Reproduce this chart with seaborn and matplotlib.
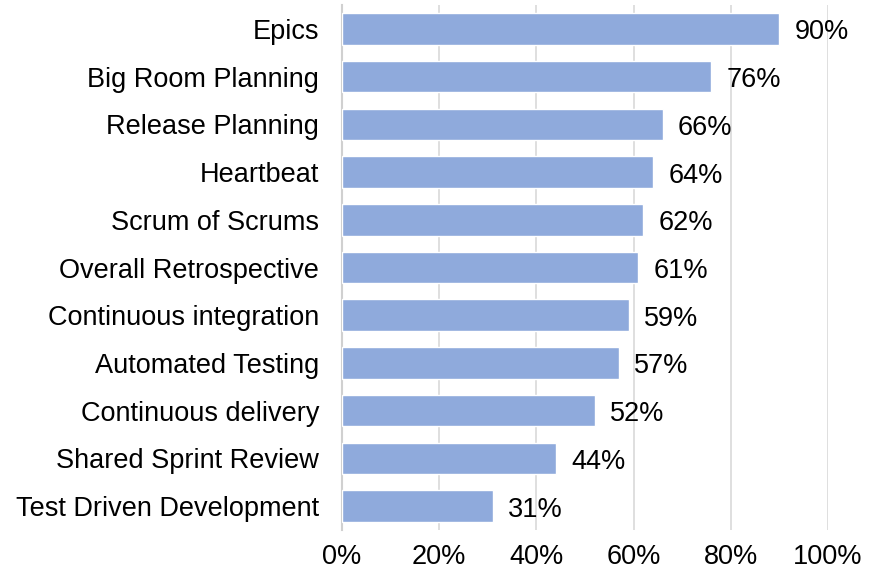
import matplotlib
matplotlib.use("Agg")
import matplotlib.pyplot as plt
import seaborn as sns
import pandas as pd
from matplotlib.ticker import FuncFormatter

categories = ["Epics", "Big Room Planning", "Release Planning", "Heartbeat",
              "Scrum of Scrums", "Overall Retrospective", "Continuous integration",
              "Automated Testing", "Continuous delivery", "Shared Sprint Review",
              "Test Driven Development"]
values = [90, 76, 66, 64, 62, 61, 59, 57, 52, 44, 31]
x_ticks = [0, 20, 40, 60, 80, 100]

df = pd.DataFrame({"practice": categories, "pct": values})

sns.set_theme(style="white")
plt.rcParams['font.family'] = ['Liberation Sans', 'DejaVu Sans']

fig = plt.figure(figsize=(8.72, 5.73), dpi=100)
ax = fig.add_axes([342/872, 1-530/573, 486/872, 525/573])

sns.barplot(data=df, x="pct", y="practice", order=categories, color="#8FAADC",
            saturation=1, width=0.66, ax=ax, zorder=3)

ax.set_xlim(0, 100)
ax.set_ylim(len(categories) - 0.5, -0.5)
ax.set_xticks(x_ticks)
ax.xaxis.set_major_formatter(FuncFormatter(lambda v, p: f"{v:.0f}%"))
ax.grid(axis="x", color="#D9D9D9", linewidth=1.2, zorder=0)
ax.grid(axis="y", visible=False)
for s in ["top", "right", "bottom"]:
    ax.spines[s].set_visible(False)
ax.spines["left"].set_color("#D0D0D0")
ax.spines["left"].set_linewidth(1.5)
ax.set_xlabel("")
ax.set_ylabel("")
ax.tick_params(axis="y", length=0, pad=16.5, labelsize=19.5, colors="black")
ax.tick_params(axis="x", length=0, pad=10, labelsize=19.5, colors="black")

for c in ax.containers:
    texts = ax.bar_label(c, labels=[f"{v}%" for v in values], padding=11,
                         fontsize=19.5, color="black")
    for t in texts:
        x0, y0 = t.xyann
        t.xyann = (x0, y0 - 2.5)

fig.savefig("out.png", dpi=100)
